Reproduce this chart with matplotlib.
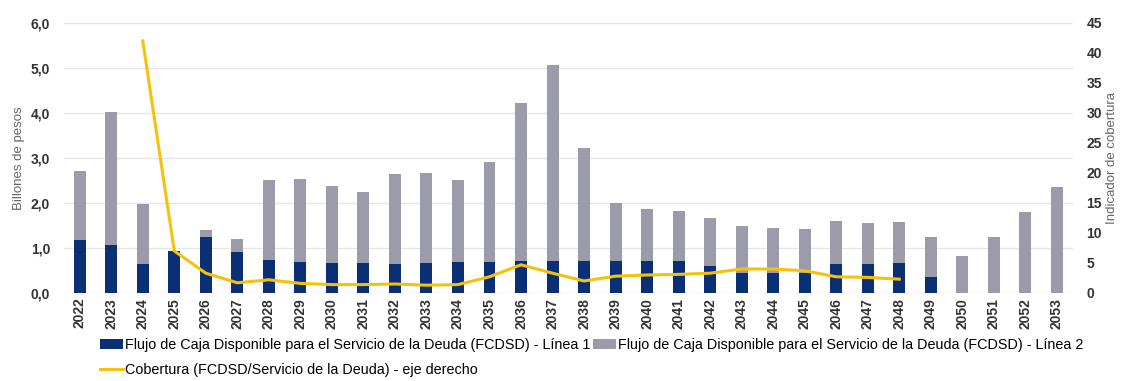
import matplotlib.pyplot as plt
from matplotlib.ticker import FuncFormatter

# Years on the x axis
years = [str(y) for y in range(2022, 2054)]

# FCDSD - Línea 1 (billones de pesos)
linea1 = [1.18, 1.07, 0.64, 0.93, 1.24, 0.91, 0.73, 0.69, 0.66, 0.66, 0.64, 0.67,
          0.69, 0.69, 0.70, 0.71, 0.72, 0.72, 0.72, 0.72, 0.60, 0.45, 0.45, 0.44,
          0.64, 0.64, 0.67, 0.36, 0.0, 0.0, 0.0, 0.0]

# FCDSD - Línea 2 (billones de pesos)
linea2 = [1.52, 2.96, 1.34, 0.00, 0.16, 0.29, 1.78, 1.84, 1.72, 1.58, 2.00, 1.99,
          1.82, 2.22, 3.52, 4.36, 2.51, 1.28, 1.14, 1.10, 1.07, 1.04, 1.00, 0.98,
          0.96, 0.92, 0.91, 0.88, 0.82, 1.25, 1.81, 2.35]

# Cobertura (eje derecho), 2024-2048
cob_years = [str(y) for y in range(2024, 2049)]
cobertura = [42.0, 7.0, 3.3, 1.7, 2.2, 1.6, 1.4, 1.4, 1.5, 1.3, 1.4, 2.7, 4.7,
             3.3, 2.0, 2.8, 3.0, 3.1, 3.3, 4.0, 4.0, 3.7, 2.7, 2.6, 2.3]

navy = "#0b2f74"
grey = "#9c9ba9"
yellow = "#f4c20d"
txt = "#333333"

plt.rcParams["font.family"] = ["Liberation Sans", "DejaVu Sans"]

fig = plt.figure(figsize=(11.22, 3.81), dpi=100)
ax = fig.add_axes([0.057, 0.231, 0.899, 0.709])
ax2 = ax.twinx()

x = list(range(len(years)))
w = 0.38
b1 = ax.bar(x, linea1, width=w, color=navy, zorder=2)
b2 = ax.bar(x, linea2, width=w, bottom=linea1, color=grey, zorder=2)

cx = [years.index(y) for y in cob_years]
ln, = ax2.plot(cx, cobertura, color=yellow, linewidth=2.2, zorder=3)

ax.set_xlim(-0.5, len(years) - 0.5)
ax.set_ylim(0, 6)
ax2.set_ylim(0, 45)
ax.set_yticks([0, 1, 2, 3, 4, 5, 6])
ax2.set_yticks(range(0, 50, 5))
ax.yaxis.set_major_formatter(FuncFormatter(lambda v, p: f"{v:.1f}".replace(".", ",")))

ax.set_xticks(x)
ax.set_xticklabels(years, rotation=90, fontsize=9.5, fontweight="bold", color=txt)
for a in (ax, ax2):
    for s in a.spines.values():
        s.set_visible(False)
    a.tick_params(length=0, labelsize=10, labelcolor=txt)
for t in ax.get_yticklabels() + ax2.get_yticklabels():
    t.set_fontweight("bold")
ax.tick_params(axis="y", pad=10)
ax2.tick_params(axis="y", pad=10)

ax.grid(axis="y", color="#e6e6e6", linewidth=1, zorder=0)
ax.set_axisbelow(True)

ax.set_ylabel("Billones de pesos", fontsize=9.5, color="#666666", labelpad=4)
ax2.set_ylabel("Indicador de cobertura", fontsize=9.5, color="#666666", labelpad=3)

fig.legend([b1, ln, b2],
           ["Flujo de Caja Disponible para el Servicio de la Deuda (FCDSD) - Línea 1",
            "Cobertura (FCDSD/Servicio de la Deuda) - eje derecho",
            "Flujo de Caja Disponible para el Servicio de la Deuda (FCDSD) - Línea 2"],
           ncol=2, loc="lower left", bbox_to_anchor=(0.084, -0.005), frameon=False,
           fontsize=10.4, handlelength=1.6, handletextpad=0.1, columnspacing=0.2,
           labelspacing=0.75, borderaxespad=0)

fig.savefig("out.png", dpi=100)
